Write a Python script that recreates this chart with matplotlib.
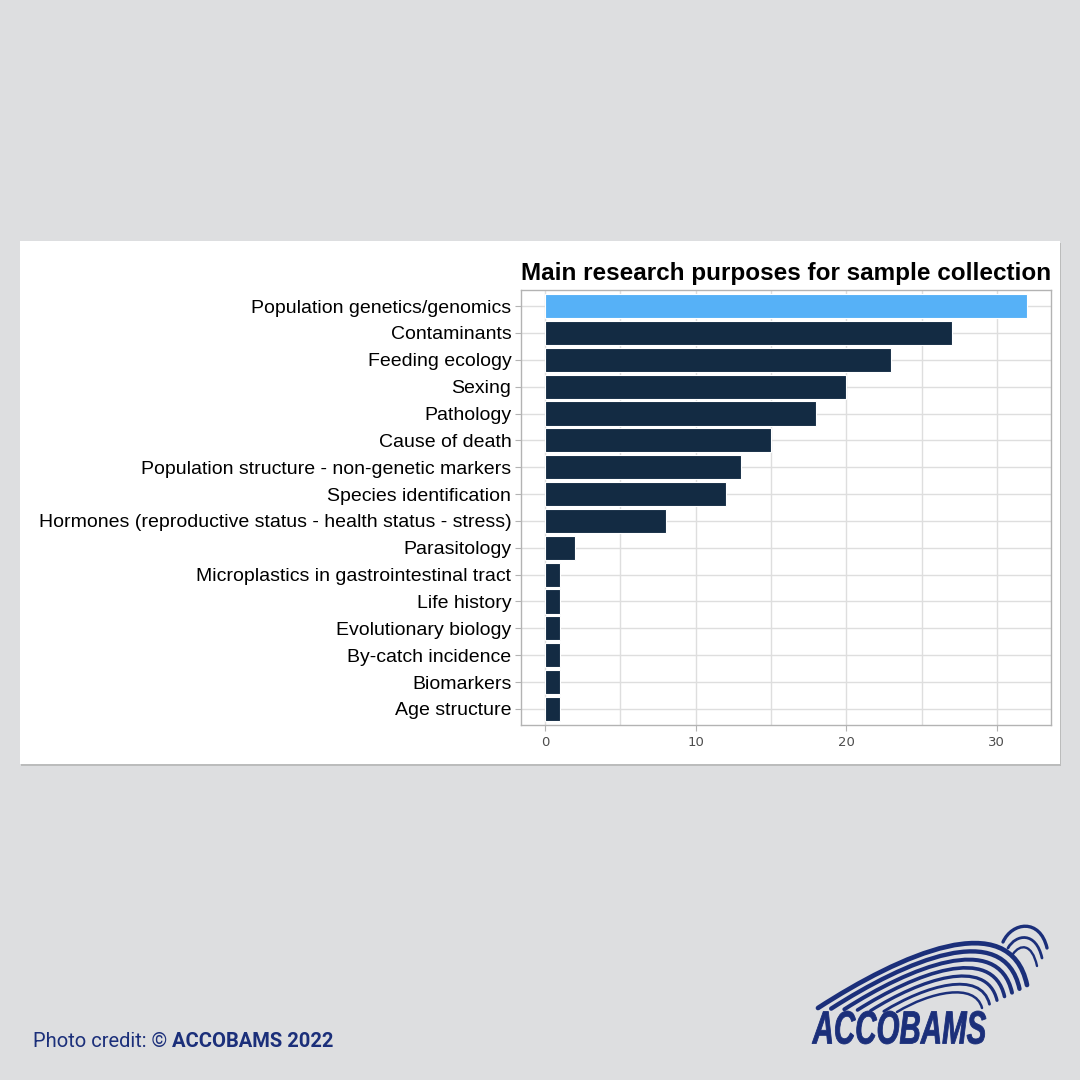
import numpy as np
import matplotlib
matplotlib.use("Agg")
import matplotlib.pyplot as plt
from matplotlib.patches import Rectangle, PathPatch
from matplotlib.path import Path
from matplotlib.textpath import TextPath
from matplotlib.font_manager import FontProperties
from matplotlib.transforms import Affine2D

purposes = ['Population genetics/genomics', 'Contaminants', 'Feeding ecology',
            'Sexing', 'Pathology', 'Cause of death',
            'Population structure - non-genetic markers', 'Species identification',
            'Hormones (reproductive status - health status - stress)', 'Parasitology',
            'Microplastics in gastrointestinal tract', 'Life history',
            'Evolutionary biology', 'By-catch incidence', 'Biomarkers', 'Age structure']
counts = [32, 27, 23, 20, 18, 15, 13, 12, 8, 2, 1, 1, 1, 1, 1, 1]
xticks = [0, 10, 20, 30]
title = 'Main research purposes for sample collection'

light_blue = '#56b1f7'
navy = '#132b43'
brand = '#1b2f7a'

W = H = 1080
fig = plt.figure(figsize=(10.8, 10.8), dpi=100)
fig.patch.set_facecolor('#dddee0')

# background layer in pixel coords (y down)
bg = fig.add_axes([0, 0, 1, 1], zorder=0)
bg.set_xlim(0, W)
bg.set_ylim(H, 0)
bg.axis('off')

# white card with a soft shadow
bg.add_patch(Rectangle((21, 243), 1040, 523, facecolor='#a0a0a0', alpha=0.55, lw=0))
bg.add_patch(Rectangle((20, 241), 1040, 523, facecolor='white', lw=0))

# credit text
t1 = bg.text(33, 1047, 'Photo credit: \u00a9 ', fontsize=14.5, color=brand,
             family='Roboto', va='baseline')
bg.annotate('ACCOBAMS 2022', xy=(1, 0), xycoords=t1, va='bottom', fontsize=14.5,
            color=brand, fontweight='bold', family='Roboto')


def swoosh(p0, p1, p2, p3, lw):
    path = Path([p0, p1, p2, p3], [Path.MOVETO, Path.CURVE4, Path.CURVE4, Path.CURVE4])
    bg.add_patch(PathPatch(path, facecolor='none', edgecolor=brand, lw=lw,
                           capstyle='round'))


# logo swooshes, outer to inner
outer = np.array([[818, 1008], [900, 955], [1010, 905], [1027, 985]], float)
inner = np.array([[897, 1012], [930, 992], [975, 982], [982, 1008]], float)
for i in range(7):
    f = i / 6
    pts = outer * (1 - f) + inner * f
    swoosh(*pts, lw=3.4 - 1.6 * f)

# little leaping dolphins
swoosh((1003, 942), (1012, 922), (1040, 918), (1047, 948), 2.4)
swoosh((1008, 948), (1016, 934), (1036, 931), (1042, 958), 2.0)
swoosh((1013, 954), (1020, 944), (1032, 943), (1037, 966), 1.7)

# wordmark, squeezed into the box it fills in the reference
tp = TextPath((0, 0), 'ACCOBAMS', size=50,
              prop=FontProperties(family='Liberation Sans', weight='bold', style='italic'))
ext = tp.get_extents()
x0, x1, ytop, ybot = 812, 986, 1011, 1044
sx = (x1 - x0) / ext.width
sy = (ybot - ytop) / ext.height
tr = Affine2D().translate(-ext.x0, -ext.y0).scale(sx, -sy).translate(x0, ybot)
bg.add_patch(PathPatch(tr.transform_path(tp), facecolor=brand, edgecolor=brand, lw=0.6))

# chart
ax = fig.add_axes([521 / W, 1 - 725 / H, 530 / W, 435 / H], zorder=2)
n = len(purposes)
ypos = np.arange(n)[::-1]
colors = [light_blue] + [navy] * (n - 1)
ax.barh(ypos, counts, height=0.9, color=colors, edgecolor='white', linewidth=0.8, zorder=3)

ax.set_xlim(-1.6, 33.6)
ax.set_ylim(-0.6, n - 0.4)
ax.set_xticks(xticks)
ax.set_xticks([5, 15, 25], minor=True)
ax.set_yticks(ypos)
ax.set_yticklabels(purposes, fontsize=14, color='black', family='Liberation Sans')
ax.tick_params(axis='y', which='major', length=4, color='#b3b3b3', pad=3)
ax.tick_params(axis='x', which='major', length=4, color='#b3b3b3', labelsize=9.5,
               labelcolor='#4d4d4d', pad=4)
ax.tick_params(axis='x', which='minor', length=0)
ax.grid(True, which='both', color='#dedede', lw=1, zorder=0)
ax.set_axisbelow(True)
for s in ax.spines.values():
    s.set_color('#b3b3b3')
    s.set_linewidth(1)
ax.set_title(title, fontsize=17.5, fontweight='bold', family='Liberation Sans',
             loc='right', pad=7)

fig.savefig('out.png', dpi=100, facecolor=fig.get_facecolor())
